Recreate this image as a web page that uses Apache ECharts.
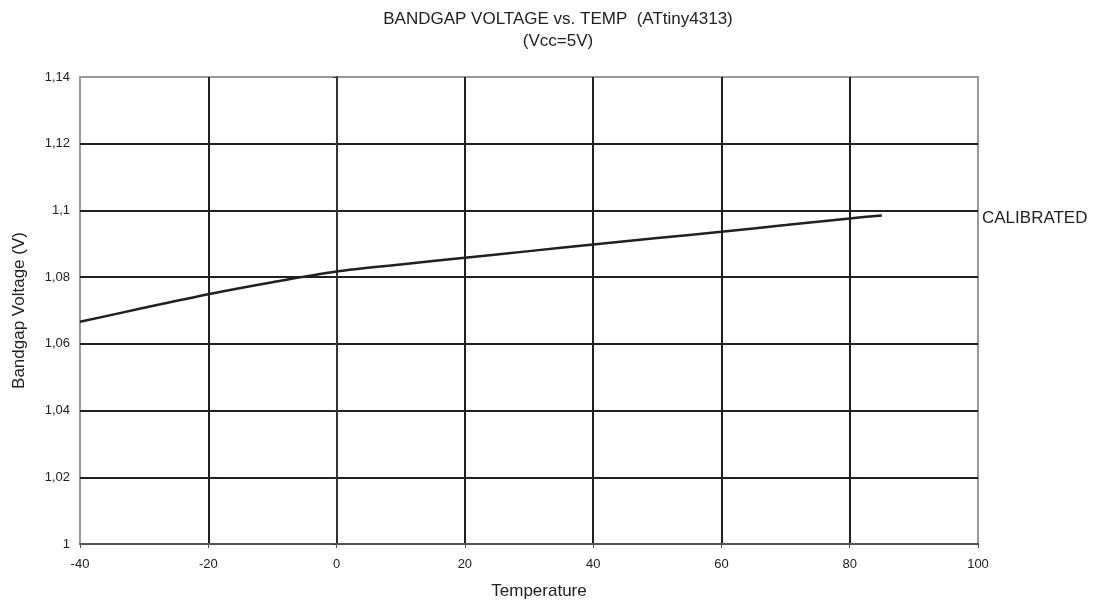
<!DOCTYPE html>
<html>
<head>
<meta charset="utf-8">
<title>Bandgap voltage vs. temp</title>
<script src="https://cdn.jsdelivr.net/npm/echarts@6/dist/echarts.min.js"></script>
<style>
  html, body { margin: 0; padding: 0; background: #fff; }
  #chart { width: 1104px; height: 605px; }
</style>
</head>
<body>
<div id="chart"></div>
<script>
"use strict";

// data
const TEMPS = [-40, -30, -20, -10, 0, 10, 20, 30, 40, 50, 60, 70, 80, 85];
const VBG = [1.0666, 1.0708, 1.0749, 1.0785, 1.0817, 1.0838, 1.0858, 1.0878, 1.0898, 1.0917, 1.0936, 1.0956, 1.0976, 1.0985];
const SERIES_NAME = "CALIBRATED";
const TITLE = "BANDGAP VOLTAGE vs. TEMP  (ATtiny4313)\n(Vcc=5V)";

const INK = "#231f20";
const TXT = "#222";
const FONT = "Liberation Sans, Arial, sans-serif";

const comma = v => String(parseFloat(Number(v).toFixed(2))).replace(".", ",");

const chart = echarts.init(document.getElementById("chart"), null, { renderer: "canvas" });
chart.setOption({
  animation: false,
  textStyle: { fontFamily: FONT, color: TXT },
  title: {
    text: TITLE,
    left: 553, top: 3, textAlign: "center",
    textStyle: { fontSize: 17, fontWeight: "normal", color: TXT, lineHeight: 22, fontFamily: FONT }
  },
  legend: {
    data: [{ name: SERIES_NAME, icon: "none" }],
    left: 972, top: 205, itemWidth: 0, itemHeight: 14, itemGap: 0,
    textStyle: { fontSize: 17, color: TXT, fontFamily: FONT }
  },
  grid: {
    left: 80, right: 126, top: 77, bottom: 61,
    show: true, borderColor: "#9a9a9a", borderWidth: 2, backgroundColor: "#fff"
  },
  xAxis: {
    type: "value", min: -40, max: 100, interval: 20,
    name: "Temperature", nameLocation: "middle", nameGap: 39,
    nameTextStyle: { fontSize: 17, color: TXT, padding: [0, 0, 0, 20] },
    axisLine: { lineStyle: { color: "#555", width: 2 } },
    axisTick: { show: true, length: 4, lineStyle: { color: "#555" } },
    axisLabel: { fontSize: 13, color: TXT, margin: 14 },
    splitLine: { show: true, showMinLine: false, showMaxLine: false, lineStyle: { color: INK, width: 2 } }
  },
  yAxis: {
    type: "value", min: 1, max: 1.14, interval: 0.02,
    name: "Bandgap Voltage (V)", nameLocation: "middle", nameGap: 52,
    nameTextStyle: { fontSize: 17, color: TXT },
    axisLine: { show: true, lineStyle: { color: "#333", width: 2 } },
    axisTick: { show: true, length: 4, lineStyle: { color: "#333" } },
    axisLabel: { fontSize: 13, color: TXT, margin: 10, formatter: comma },
    splitLine: { show: true, showMinLine: false, showMaxLine: false, lineStyle: { color: INK, width: 2 } }
  },
  series: [{
    name: SERIES_NAME,
    type: "line",
    data: TEMPS.map((t, i) => [t, VBG[i]]),
    showSymbol: false,
    smooth: 0.3,
    lineStyle: { color: INK, width: 2.5 },
    itemStyle: { color: INK }
  }]
});
</script>
</body>
</html>
